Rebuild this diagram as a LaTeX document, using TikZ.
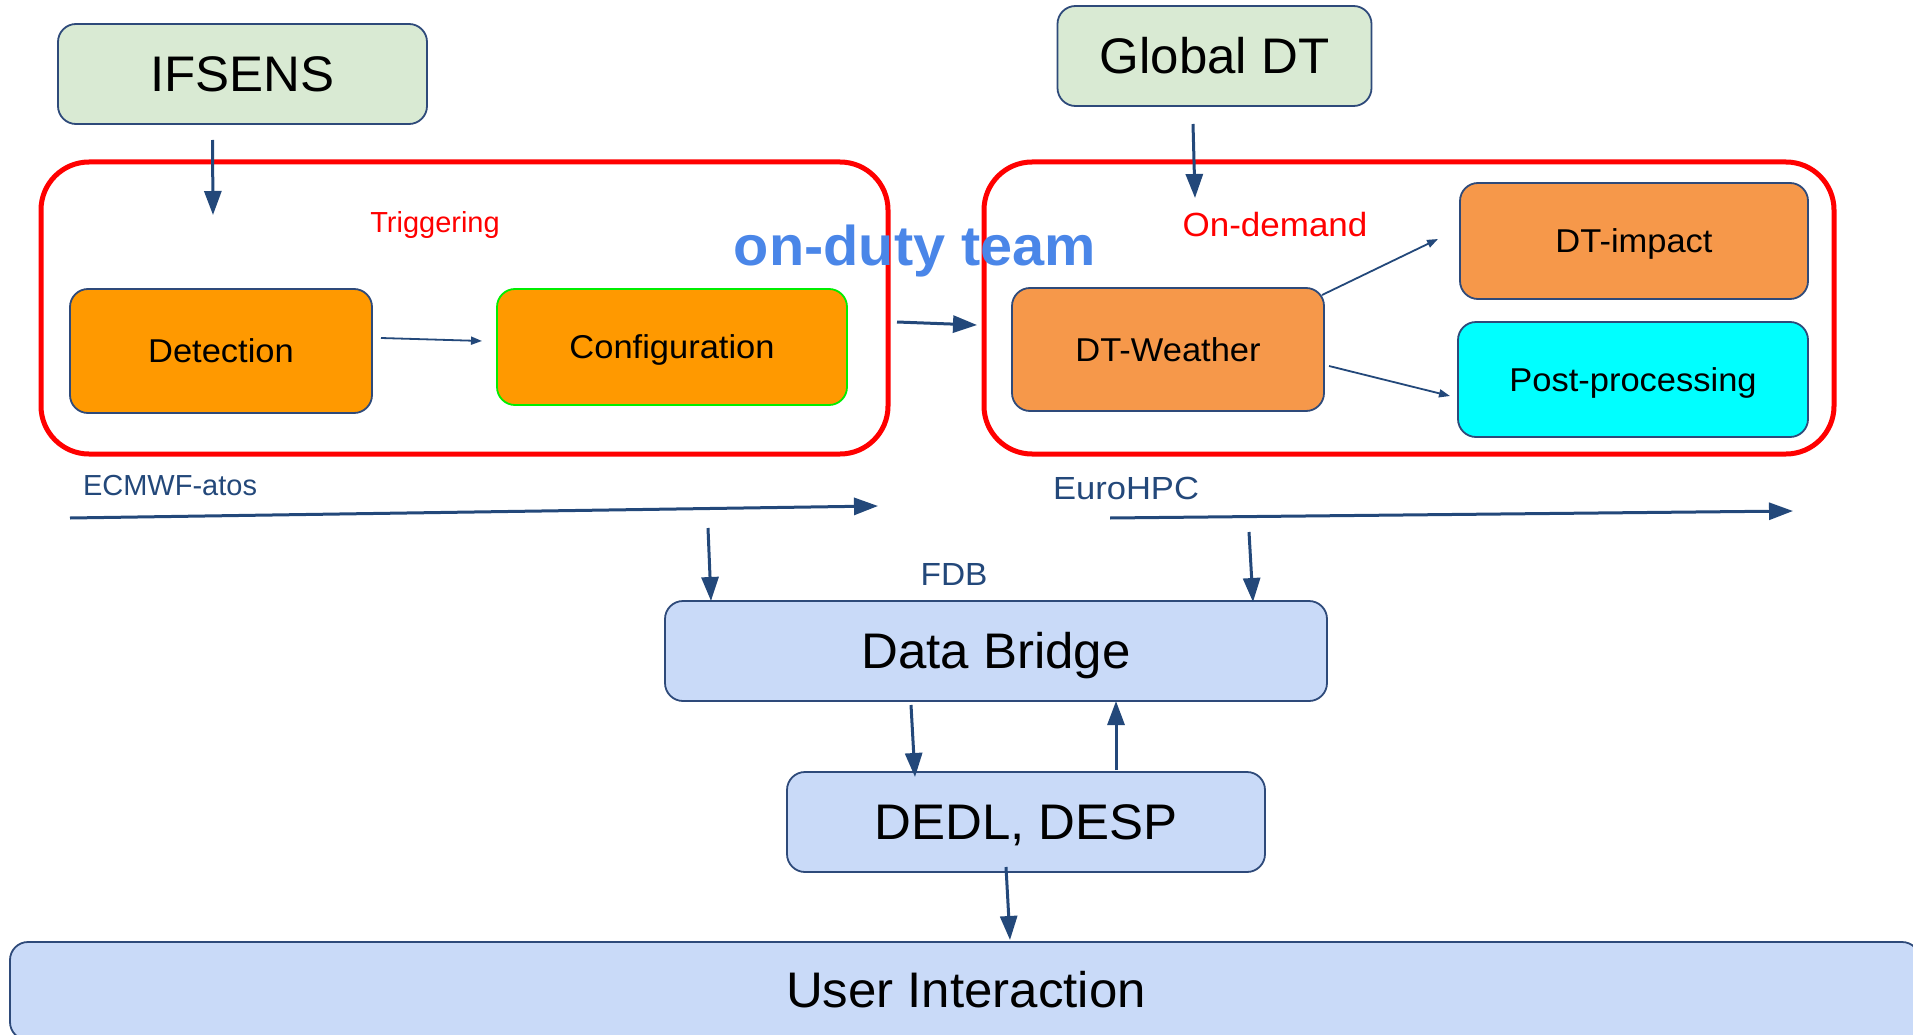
\documentclass[tikz,border=0pt]{standalone}
\usepackage{fontspec}
\setmainfont{Liberation Sans}
\newfontfamily\wideA[FakeStretch=1.045]{Liberation Sans}
\newfontfamily\wideB[FakeStretch=1.02]{Liberation Sans}
\newfontfamily\wideC[FakeStretch=1.08]{Liberation Sans}
\newfontfamily\wideD[FakeStretch=1.03,BoldFont={Liberation Sans Bold}]{Liberation Sans}
\usetikzlibrary{arrows.meta}
\definecolor{arrblue}{HTML}{23487A}
\definecolor{boxblue}{HTML}{2E4A7A}
\definecolor{labblue}{HTML}{23487A}
\definecolor{dutyblue}{HTML}{4A86E8}
\definecolor{greenfill}{HTML}{D9EAD3}
\definecolor{lbfill}{HTML}{C9DAF8}
\definecolor{orangeA}{HTML}{FF9900}
\definecolor{orangeB}{HTML}{F6984A}
\definecolor{cyanfill}{HTML}{00FFFF}
\definecolor{greenline}{HTML}{00EE00}
\definecolor{redline}{HTML}{FF0000}
\begin{document}
\begin{tikzpicture}[x=1pt,y=-1pt,
  box/.style={draw=boxblue, line width=1.8pt, rounded corners=18pt, inner sep=0pt},
  bigtext/.style={font=\wideB\fontsize{50}{60}\selectfont, text height=35.8pt, text depth=0pt},
  midtext/.style={font=\wideA\fontsize{33}{40}\selectfont, text height=23.6pt, text depth=0pt},
  redbox/.style={draw=redline, line width=5pt, rounded corners=48pt, inner sep=0pt},
  label/.style={anchor=base, inner sep=0pt},
  arr/.style={-{Triangle[length=24pt,width=17pt]}, line width=3pt, draw=arrblue},
  tarr/.style={-{Triangle[length=11pt,width=8pt]}, line width=1.8pt, draw=arrblue}]
\useasboundingbox (0,0) rectangle (1913,1035);
\clip (0,0) rectangle (1913,1035);

% containers
\node[redbox, minimum width=847pt, minimum height=292pt] (trig) at (464.5,308) {};
\node[redbox, minimum width=850pt, minimum height=292pt] (ondem) at (1409,308) {};

% top boxes
\node[box, bigtext, fill=greenfill, minimum width=369pt, minimum height=100pt] (ifsens) at (242.5,74) {IFSENS};
\node[box, bigtext, fill=greenfill, minimum width=314pt, minimum height=100pt] (global) at (1214.5,56) {Global DT};

% inner boxes
\node[box, midtext, fill=orangeA, minimum width=302pt, minimum height=124pt] (det) at (221,351) {Detection};
\node[box, midtext, fill=orangeA, draw=greenline, minimum width=350pt, minimum height=116pt] (conf) at (672,347) {Configuration};
\node[box, midtext, fill=orangeB, minimum width=312pt, minimum height=123pt] (dtw) at (1168,349.5) {DT-Weather};
\node[box, midtext, fill=orangeB, minimum width=348pt, minimum height=116pt] (dti) at (1634,241) {DT-impact};
\node[box, midtext, fill=cyanfill, minimum width=350pt, minimum height=115pt] (post) at (1633,379.5) {Post-processing};

% bottom boxes
\node[box, bigtext, fill=lbfill, minimum width=662pt, minimum height=100pt] (db) at (996,651) {Data Bridge};
\node[box, bigtext, fill=lbfill, minimum width=478pt, minimum height=100pt] (dedl) at (1026,822) {DEDL, DESP};
\node[box, fill=lbfill, minimum width=1910pt, minimum height=98pt] (ui) at (965,991) {};
\node[bigtext, inner sep=0pt] (uitext) at (966,990) {User Interaction};

% labels
\node[label, text=redline, font=\fontsize{29}{35}\selectfont] (ltrig) at (435,232) {Triggering};
\node[label, text=redline, font=\wideA\fontsize{33.5}{40}\selectfont] (lond) at (1275,236) {On-demand};
\node[label, text=dutyblue, font=\wideD\fontsize{56}{66}\selectfont\bfseries] (lduty) at (915,265) {on-duty team};
\node[label, text=labblue, font=\fontsize{29}{35}\selectfont] (lecm) at (170,495) {ECMWF-atos};
\node[label, text=labblue, font=\wideC\fontsize{32}{38}\selectfont] (leuro) at (1126,499) {EuroHPC};
\node[label, text=labblue, font=\wideA\fontsize{32}{38}\selectfont] (lfdb) at (954,585) {FDB};

% connector end points
\coordinate (c1a) at (212.5,140); \coordinate (c1b) at (213,215);
\coordinate (c2a) at (1193,124); \coordinate (c2b) at (1195,198);
\coordinate (c3a) at (381,338); \coordinate (c3b) at (482,341);
\coordinate (c4a) at (897,322); \coordinate (c4b) at (977,325);
\coordinate (c5a) at (70,518); \coordinate (c5b) at (878,506);
\coordinate (c6a) at (1110,518); \coordinate (c6b) at (1793,511);
\coordinate (c7a) at (1322,295); \coordinate (c7b) at (1438,239);
\coordinate (c8a) at (1329,366); \coordinate (c8b) at (1450,396);
\coordinate (c9a) at (708,528); \coordinate (c9b) at (711,601);
\coordinate (c10a) at (1249,532); \coordinate (c10b) at (1253,602);
\coordinate (c11a) at (911,705); \coordinate (c11b) at (915,777);
\coordinate (c12a) at (1116,770); \coordinate (c12b) at (1116,701);
\coordinate (c13a) at (1006,867); \coordinate (c13b) at (1010,940);

% connectors
\draw[arr] (c1a) -- (c1b);
\draw[arr] (c2a) -- (c2b);
\draw[tarr] (c3a) -- (c3b);
\draw[arr] (c4a) -- (c4b);
\draw[arr] (c5a) -- (c5b);
\draw[arr] (c6a) -- (c6b);
\draw[tarr] (c7a) -- (c7b);
\draw[tarr] (c8a) -- (c8b);
\draw[arr] (c9a) -- (c9b);
\draw[arr] (c10a) -- (c10b);
\draw[arr] (c11a) -- (c11b);
\draw[arr] (c12a) -- (c12b);
\draw[arr] (c13a) -- (c13b);
\end{tikzpicture}
\end{document}
